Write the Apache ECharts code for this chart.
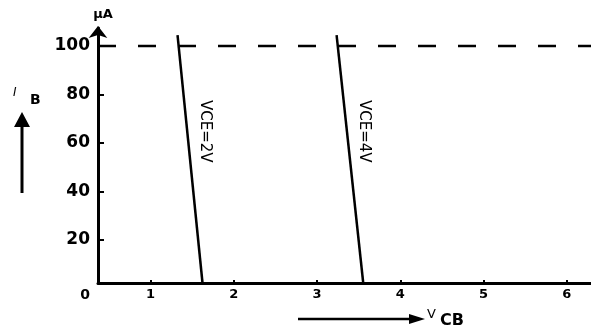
<!DOCTYPE html>
<html>
<head>
<meta charset="utf-8">
<script src="https://cdn.jsdelivr.net/npm/echarts@6/dist/echarts.min.js"></script>
<style>
  html, body { margin: 0; padding: 0; background: #fff; }
  #chart { width: 591px; height: 333px; }
</style>
</head>
<body>
<div id="chart"></div>
<script>
// Base current I_B (µA) against collector-base voltage V_CB (V)
const xTicks = [1, 2, 3, 4, 5, 6];
const yTicks = [20, 40, 60, 80, 100];
const xRange = [0.37, 6.29];
const yRange = [2.3, 107.4];

// Input characteristic lines, one per collector-emitter voltage
const curveNames = ['VCE=2V', 'VCE=4V'];
const vcb2 = [1.325, 1.625];
const ib2 = [104.5, 2.3];
const vcb4 = [3.235, 3.555];
const ib4 = [104.5, 2.3];

// Upper current limit shown dashed
const limitIB = 100;
const limitVCB = [0.37, 6.29];

const chart = echarts.init(document.getElementById('chart'), null, { renderer: 'canvas' });
const ink = '#000';
const font = 'DejaVu Sans';

function curveSeries(name, xs, ys) {
  const data = xs.map((x, i) => {
    const item = { value: [x, ys[i]] };
    if (i === 0) {
      item.label = {
        show: true,
        formatter: name,
        position: [27, 65],
        rotate: -90,
        align: 'left',
        verticalAlign: 'middle',
        fontFamily: font,
        fontSize: 15,
        color: ink
      };
    }
    return item;
  });
  return {
    name: name,
    type: 'line',
    data: data,
    symbol: 'circle',
    symbolSize: 0,
    showSymbol: true,
    lineStyle: { color: ink, width: 2.5 },
    itemStyle: { color: ink },
    z: 3,
    silent: true
  };
}

chart.setOption({
  animation: false,
  backgroundColor: '#fff',
  grid: { left: 98, right: 0, top: 28, bottom: 50 },
  xAxis: {
    type: 'value',
    min: xRange[0],
    max: xRange[1],
    splitLine: { show: false },
    axisLine: { lineStyle: { color: ink, width: 3 } },
    axisTick: { inside: true, length: 3, customValues: xTicks, lineStyle: { color: ink, width: 2 } },
    axisLabel: {
      customValues: [xRange[0]].concat(xTicks),
      formatter: v => (v < 1 ? '{z|0}' : String(v)),
      margin: 5,
      color: ink,
      fontFamily: font,
      fontWeight: 'bold',
      fontSize: 13,
      rich: {
        z: { padding: [0, 26, 0, 0], fontFamily: font, fontWeight: 'bold', fontSize: 14, color: ink }
      }
    }
  },
  yAxis: {
    type: 'value',
    min: yRange[0],
    max: yRange[1],
    name: 'μA',
    nameLocation: 'end',
    nameGap: 7,
    nameTextStyle: { color: ink, fontFamily: font, fontSize: 13, fontWeight: 'bold', padding: [0, 0, 0, 10] },
    splitLine: { show: false },
    axisLine: {
      lineStyle: { color: ink, width: 3 },
      symbol: ['none', 'arrow'],
      symbolSize: [14, 12],
      symbolOffset: [0, 2]
    },
    axisTick: { inside: true, length: 6, customValues: yTicks, lineStyle: { color: ink, width: 2 } },
    axisLabel: {
      customValues: yTicks,
      margin: 8,
      color: ink,
      fontFamily: font,
      fontWeight: 'bold',
      fontSize: 17
    }
  },
  series: [
    curveSeries(curveNames[0], vcb2, ib2),
    curveSeries(curveNames[1], vcb4, ib4),
    {
      name: 'limit',
      type: 'line',
      data: limitVCB.map(x => [x, limitIB]),
      symbol: 'none',
      lineStyle: { color: ink, width: 2.5, type: [18, 22] },
      z: 2,
      silent: true
    }
  ],
  graphic: [
    // I_B quantity label with upward arrow
    {
      type: 'text', left: 13, top: 87,
      style: { text: 'I', font: 'italic 12px ' + font, fill: ink }
    },
    {
      type: 'text', left: 30, top: 93,
      style: { text: 'B', font: 'bold 14px ' + font, fill: ink }
    },
    {
      type: 'line',
      shape: { x1: 22, y1: 193, x2: 22, y2: 122 },
      style: { stroke: ink, lineWidth: 3 }
    },
    {
      type: 'polygon',
      shape: { points: [[22, 112], [14, 127], [30, 127]] },
      style: { fill: ink }
    },
    // V_CB quantity label with rightward arrow
    {
      type: 'line',
      shape: { x1: 298, y1: 319, x2: 412, y2: 319 },
      style: { stroke: ink, lineWidth: 2.5 }
    },
    {
      type: 'polygon',
      shape: { points: [[425, 319], [409, 314], [409, 324]] },
      style: { fill: ink }
    },
    {
      type: 'text', left: 427, top: 308,
      style: { text: 'V', font: '13px ' + font, fill: ink }
    },
    {
      type: 'text', left: 440, top: 313,
      style: { text: 'CB', font: 'bold 16px ' + font, fill: ink }
    }
  ]
});
</script>
</body>
</html>
